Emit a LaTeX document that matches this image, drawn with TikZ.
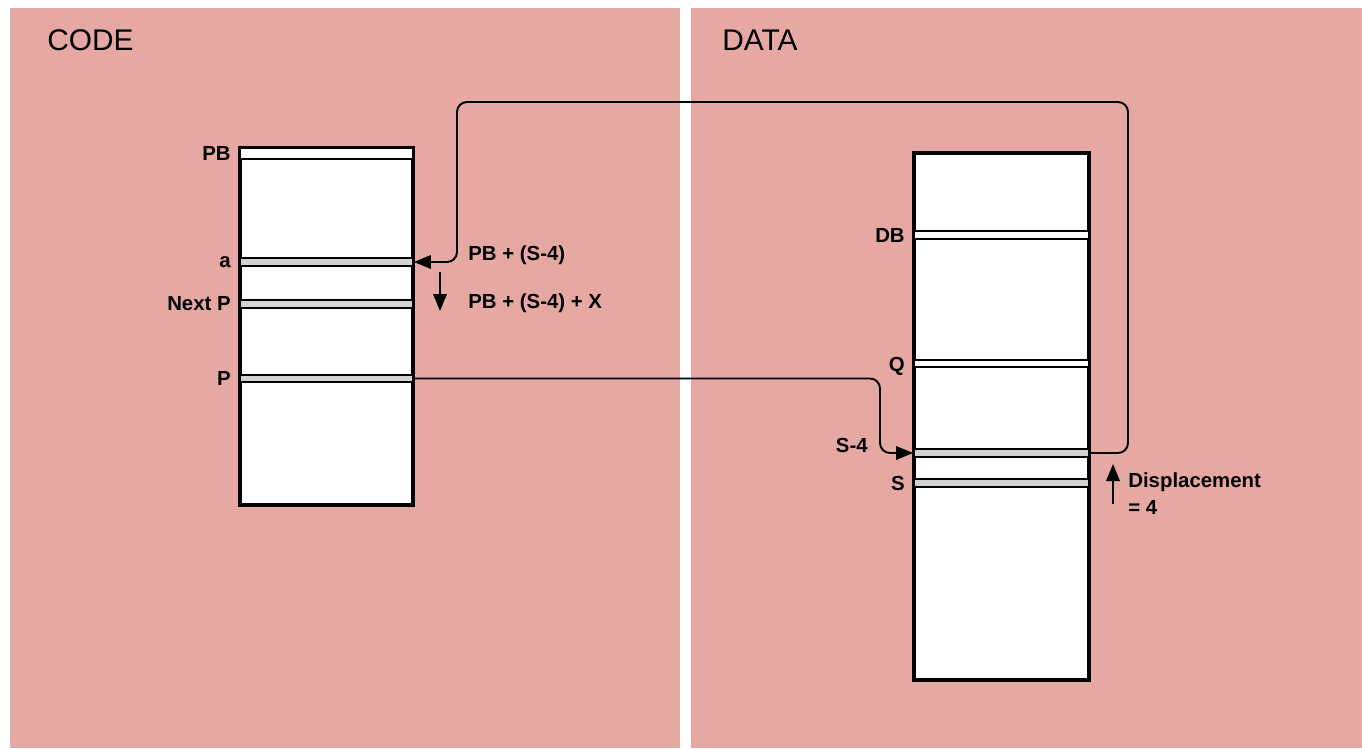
\documentclass[tikz,border=0pt]{standalone}
\usepackage{fontspec}
\setmainfont{Liberation Sans}
\usepackage{xcolor}
\usepackage{tikz}
\usetikzlibrary{positioning,arrows.meta}

\definecolor{panelpink}{RGB}{230,168,162}
\definecolor{bandgray}{RGB}{212,210,210}

\begin{document}
\begin{tikzpicture}[x=0.02cm,y=-0.02cm,
  every node/.style={font=\bfseries\fontsize{11.6}{15.4}\selectfont,inner sep=0pt},
  title/.style={font=\fontsize{17}{20}\selectfont,anchor=west},
  memory/.style={rectangle,draw=black,fill=white,line width=2pt},
  slot/.style={rectangle,draw=black,line width=1.1pt,minimum height=0.15cm},
  conn/.style={draw=black,line width=1.1pt,rounded corners=0.2cm},
  tip/.style={-{Triangle[length=0.34cm,width=0.27cm]}}]
  % page and the two panels
  \fill[white] (0,0) rectangle (1362,748);
  \useasboundingbox (0,0) rectangle (1362,748);
  \fill[panelpink] (10,8) rectangle (680,748);
  \fill[panelpink] (691,8) rectangle (1362,748);
  \node[title] (codettl) at (47,40) {CODE};
  \node[title] (datattl) at (722,40) {DATA};

  % CODE segment
  \node[memory,minimum width=3.46cm,minimum height=7.14cm] (codeseg) at (326.5,326.5) {};
  \node[slot,fill=white,minimum width=3.46cm,minimum height=0.22cm] (pbslot) at (326.5,153.5) {};
  \node[slot,fill=bandgray,minimum width=3.46cm] (aslot) at (326.5,262) {};
  \node[slot,fill=bandgray,minimum width=3.46cm] (nextslot) at (326.5,304) {};
  \node[slot,fill=bandgray,minimum width=3.46cm] (pslot) at (326.5,378.5) {};
  \node[left=0.16cm of pbslot] (pblbl) {PB};
  \node[left=0.16cm of aslot] (albl) {a};
  \node[left=0.16cm of nextslot] (nextlbl) {Next P};
  \node[left=0.16cm of pslot] (plbl) {P};

  % DATA segment
  \node[memory,minimum width=3.5cm,minimum height=10.54cm] (dataseg) at (1001.5,416.5) {};
  \node[slot,fill=white,minimum width=3.5cm] (dbslot) at (1001.5,235) {};
  \node[slot,fill=white,minimum width=3.5cm] (qslot) at (1001.5,363.5) {};
  \node[slot,fill=bandgray,minimum width=3.5cm] (s4slot) at (1001.5,453) {};
  \node[slot,fill=bandgray,minimum width=3.5cm] (sslot) at (1001.5,483) {};
  \node[left=0.16cm of dbslot] (dblbl) {DB};
  \node[left=0.16cm of qslot,yshift=-0.05cm] (qlbl) {Q};
  \node[left=0.16cm of sslot] (slbl) {S};
  \node[anchor=east] (s4lbl) at (868,445) {S-4};

  % P points at S-4
  \coordinate (drop) at (880,420);
  \draw[conn,tip] (pslot.east) -| (drop) |- (s4slot.west);

  % S-4 holds the address of a
  \coordinate (loopR) at (1128,102);
  \coordinate (loopL) at (457,102);
  \draw[conn,tip] (s4slot.east) -| (loopR) -- (loopL) |- (aslot.east);

  % branch labels
  \node[anchor=west] (tgtlbl) at (468,255) {PB + (S-4)};
  \node[anchor=west] (nxtlbl) at (468,303) {PB + (S-4) + X};
  \coordinate (dnA) at (440,272);
  \coordinate (dnB) at (440,311);
  \draw[line width=1.1pt,tip] (dnA) -- (dnB);

  % displacement
  \node[anchor=west,align=left] (displbl) at (1128,493.5) {Displacement\\= 4};
  \coordinate (upA) at (1113,504);
  \coordinate (upB) at (1113,464);
  \draw[line width=1.1pt,tip] (upA) -- (upB);
\end{tikzpicture}
\end{document}
